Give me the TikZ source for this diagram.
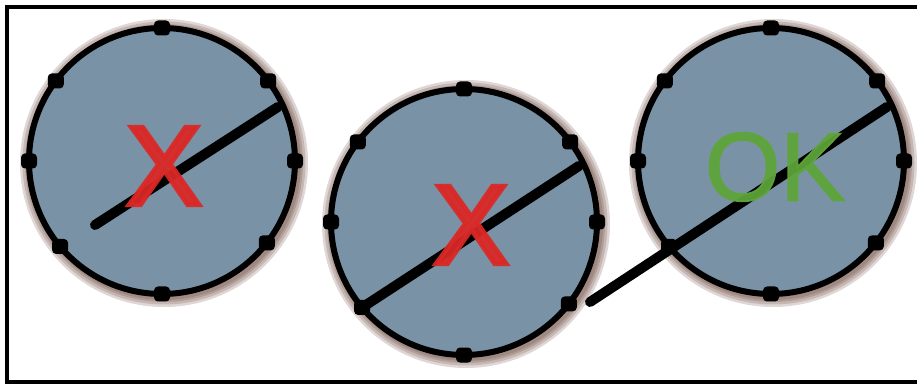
\documentclass[tikz,border=0pt]{standalone}
\usepackage{fontspec}
\newfontfamily\xfont[FakeBold=4]{Liberation Sans}
\newfontfamily\okfont[FakeBold=1.8]{Liberation Sans}
\usetikzlibrary{calc}
\definecolor{discfill}{RGB}{122,146,166}
\definecolor{haloc}{RGB}{95,55,45}
\definecolor{xred}{RGB}{218,40,38}
\definecolor{okgreen}{RGB}{94,165,58}
\tikzset{
  disc/.style={circle, inner sep=0pt, minimum size=266pt, draw=black, line width=6pt, fill=discfill},
  pin/.style={rectangle, rounded corners=4pt, fill=black, inner sep=0pt, minimum width=16pt, minimum height=15pt},
  rod/.style={line width=10pt, line cap=round, draw=black},
  halo/.style={draw=haloc, opacity=0.2},
  mark x/.style={text=xred, opacity=0.93, inner sep=0pt, font=\xfont\fontsize{113}{113}\selectfont},
  mark ok/.style={text=okgreen, opacity=0.93, inner sep=0pt, font=\okfont\fontsize{97}{97}\selectfont},
  frame/.style={draw=black, line width=4pt}
}
\begin{document}
\begin{tikzpicture}[x=1pt,y=1pt]
\useasboundingbox (0,0) rectangle (917,388);
\draw[frame] (7,6) rectangle (923,381);
% halos
\foreach \cx/\cy in {162/227, 464/166, 771/227}{
  \foreach \w in {22,17,12,8}{
    \draw[halo, line width=\w pt] (\cx+2,\cy-2) circle (133);
  }
}
% discs
\node[disc] (c1) at (162,227) {};
\node[disc] (c2) at (464,166) {};
\node[disc] (c3) at (771,227) {};
% pins
\foreach \c in {c1,c2,c3}{
  \foreach \a [count=\i] in {0,37,90,143,180,220,270,322}{
    \node[pin] (\c p\i) at ($(\c)+(\a:133)$) {};
  }
}
% rods
\coordinate (r1s) at (95,163);
\coordinate (r1e) at ($(c1)+(25:128)$);
\coordinate (r2e) at ($(c2)+(26:128)$);
\coordinate (r3s) at (590,86);
\coordinate (r3e) at ($(c3)+(25:128)$);
\draw[rod] (r1s) -- (r1e);
\draw[rod] (c2p6.center) -- (r2e);
\draw[rod] (r3s) -- (r3e);
% labels
\node[mark x] (x1) at (164,222) {X};
\node[mark x] (x2) at (471,163) {X};
\node[mark ok] (ok) at (775,221) {OK};
\end{tikzpicture}
\end{document}
